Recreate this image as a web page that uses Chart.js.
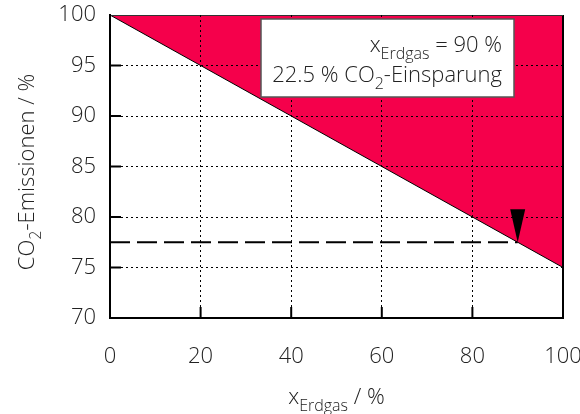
<!DOCTYPE html>
<html><head><meta charset="utf-8">
<script src="https://cdn.jsdelivr.net/npm/chart.js@4/dist/chart.umd.min.js"></script>
<style>html,body{margin:0;padding:0;background:#fff}#wrap{width:580px;height:414px}</style>
</head><body><div id="wrap"><canvas id="c" width="580" height="414"></canvas></div>
<script>
const xShare = [0, 100];
const emissions = [100, 75];
const markerX = [0, 90];
const markerY = [77.5, 77.5];
const arrowX = [90, 90];
const arrowY = [100, 77.5];
const xTicks = [0, 20, 40, 60, 80, 100];
const yTicks = [70, 75, 80, 85, 90, 95, 100];
const RED = 'rgb(245,0,75)';
const FONT = '"Open Sans", sans-serif';

function pts(xs, ys){ return xs.map((x,i)=>({x:x,y:ys[i]})); }

function drawRich(ctx, parts, x, y, align, size){
  const subSize = Math.round(size*0.74);
  let w = 0;
  parts.forEach(p=>{ ctx.font = '300 ' + (p.sub?subSize:size) + 'px ' + FONT; p.w = ctx.measureText(p.t).width; w += p.w; });
  let cx = align==='right' ? x - w : (align==='center' ? x - w/2 : x);
  parts.forEach(p=>{
    ctx.font = '300 ' + (p.sub?subSize:size) + 'px ' + FONT;
    ctx.fillText(p.t, cx, p.sub ? y + size*0.3 : y);
    cx += p.w;
  });
}

function zeroPad(s){ s.paddingTop=0; s.paddingBottom=0; s.paddingLeft=0; s.paddingRight=0; }

const deco = {
  id:'deco',
  afterDatasetsDraw(chart){
    const {ctx, scales:{x,y}, chartArea:a} = chart;
    ctx.save();
    ctx.strokeStyle='#000'; ctx.lineWidth=2;
    xTicks.slice(1,-1).forEach(v=>{ const px=x.getPixelForValue(v); ctx.beginPath(); ctx.moveTo(px,a.bottom); ctx.lineTo(px,a.bottom-11); ctx.stroke(); });
    yTicks.slice(1,-1).forEach(v=>{ const py=y.getPixelForValue(v); ctx.beginPath(); ctx.moveTo(a.left,py); ctx.lineTo(a.left+11,py); ctx.stroke(); });
    ctx.beginPath(); ctx.moveTo(a.right,a.top); ctx.lineTo(a.right,a.bottom+1); ctx.stroke();
    ctx.strokeStyle='#333'; ctx.lineWidth=1;
    ctx.beginPath(); ctx.moveTo(a.left,a.top+0.5); ctx.lineTo(a.right,a.top+0.5); ctx.stroke();
    const tx=x.getPixelForValue(arrowX[1]), ty=y.getPixelForValue(arrowY[1]);
    ctx.fillStyle='#000';
    ctx.beginPath(); ctx.moveTo(tx,ty); ctx.lineTo(tx-7.5,ty-33); ctx.lineTo(tx+7.5,ty-33); ctx.closePath(); ctx.fill();
    ctx.restore();
  },
  afterDraw(chart){
    const {ctx, chartArea:a} = chart;
    ctx.save();
    ctx.textBaseline='alphabetic';
    ctx.fillStyle='#fff'; ctx.fillRect(261,19,253,78);
    ctx.strokeStyle='#555'; ctx.lineWidth=1.5; ctx.strokeRect(261,19,253,78);
    ctx.fillStyle='#222';
    drawRich(ctx,[{t:'x'},{t:'Erdgas',sub:true},{t:' = 90 %'}],502,52,'right',22);
    drawRich(ctx,[{t:'22.5 % CO'},{t:'2',sub:true},{t:'-Einsparung'}],502,82,'right',22);
    drawRich(ctx,[{t:'x'},{t:'Erdgas',sub:true},{t:' / %'}],(a.left+a.right)/2,404,'center',22);
    ctx.translate(34,172); ctx.rotate(-Math.PI/2);
    drawRich(ctx,[{t:'CO'},{t:'2',sub:true},{t:'-Emissionen / %'}],0,0,'center',22);
    ctx.restore();
  }
};

const gridColor = c => (c.tick && (c.tick.value===xTicks[0]||c.tick.value===xTicks[xTicks.length-1]||c.tick.value===yTicks[0]||c.tick.value===yTicks[yTicks.length-1])) ? 'rgba(0,0,0,0)' : '#000';

new Chart(document.getElementById('c'),{
  type:'line',
  data:{datasets:[
    {data:pts(xShare,emissions),borderColor:'#000',borderWidth:1,backgroundColor:RED,fill:'end',pointRadius:0},
    {data:pts(markerX,markerY),borderColor:'#000',borderWidth:2,borderDash:[20,7],fill:false,pointRadius:0},
    {data:pts(arrowX,arrowY),borderColor:'#000',borderWidth:2,fill:false,pointRadius:0}
  ]},
  options:{
    responsive:false,animation:false,
    layout:{autoPadding:false,padding:{left:0,top:15,right:17,bottom:0}},
    plugins:{legend:{display:false},tooltip:{enabled:false}},
    scales:{
      x:{type:'linear',min:0,max:100,
        afterFit(s){s.height=96; zeroPad(s);},
        afterBuildTicks(s){s.ticks=xTicks.map(v=>({value:v}));},
        ticks:{padding:26,color:'#222',font:{family:FONT,size:22,weight:'300'}},
        grid:{drawTicks:false,color:gridColor,lineWidth:1,z:1},
        border:{display:true,color:'#000',width:2,dash:[2,3],z:1}},
      y:{type:'linear',min:70,max:100,
        afterFit(s){s.width=110; zeroPad(s);},
        afterBuildTicks(s){s.ticks=yTicks.map(v=>({value:v}));},
        ticks:{padding:14,color:'#222',font:{family:FONT,size:22,weight:'300'}},
        grid:{drawTicks:false,color:gridColor,lineWidth:1,z:1},
        border:{display:true,color:'#000',width:2,dash:[2,3],z:1}}
    }
  },
  plugins:[deco]
});
</script></body></html>
